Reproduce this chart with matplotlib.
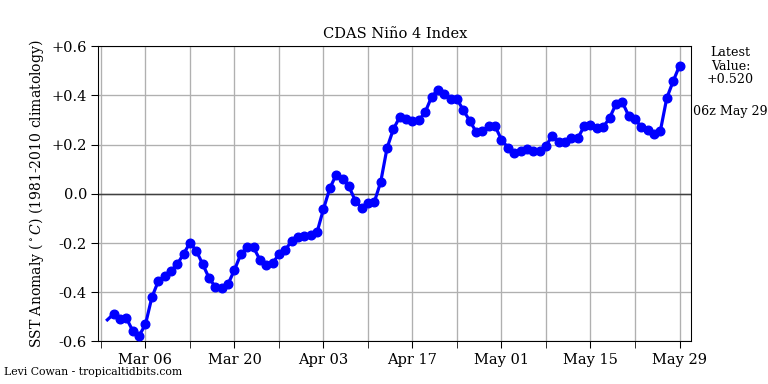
import numpy as np
import matplotlib
matplotlib.use("Agg")
import matplotlib.pyplot as plt
import matplotlib.dates as mdates
import matplotlib.ticker as mticker

# daily Nino 4 SST anomaly (deg C), 2024-02-29 .. 2024-05-29
start_day = "2024-02-29"
end_day = "2024-05-29"
anom = [
    -0.512, -0.488, -0.508, -0.505, -0.557, -0.577, -0.530, -0.421, -0.356, -0.332,
    -0.313, -0.286, -0.244, -0.199, -0.232, -0.286, -0.342, -0.379, -0.381, -0.366,
    -0.309, -0.245, -0.218, -0.218, -0.268, -0.289, -0.282, -0.245, -0.228, -0.191,
    -0.176, -0.173, -0.166, -0.155, -0.062, 0.023, 0.077, 0.062, 0.030, -0.028,
    -0.057, -0.037, -0.033, 0.048, 0.186, 0.263, 0.312, 0.304, 0.294, 0.298,
    0.332, 0.393, 0.423, 0.407, 0.386, 0.385, 0.339, 0.297, 0.252, 0.256,
    0.274, 0.274, 0.220, 0.188, 0.165, 0.175, 0.183, 0.175, 0.175, 0.195,
    0.236, 0.209, 0.212, 0.226, 0.226, 0.274, 0.279, 0.267, 0.271, 0.308,
    0.364, 0.373, 0.317, 0.305, 0.270, 0.260, 0.243, 0.257, 0.389, 0.457,
    0.520,
]
latest_label = "Latest\nValue:\n+0.520"
latest_time = "06z May 29"
yticks = [-0.6, -0.4, -0.2, 0.0, 0.2, 0.4, 0.6]

days = np.arange(np.datetime64(start_day), np.datetime64(end_day) + 1).astype("datetime64[D]").astype(object)
x = mdates.date2num(days)

plt.rcParams["font.family"] = ["DejaVu Serif"]
plt.rcParams["mathtext.fontset"] = "dejavuserif"

fig = plt.figure(figsize=(8, 4), dpi=96)
ax = fig.add_axes([0.128, 0.1107, 0.772, 0.7693])

ax.plot(x, anom, "-", color="#0000ff", lw=2.4, zorder=3)
ax.plot(x[1:], anom[1:], "o", color="#0000ff", ms=6.5, zorder=4)   # first day drawn without a marker
ax.axhline(0, color="#404040", lw=1.1, zorder=2)

ax.set_ylim(-0.6, 0.6)
ax.set_xlim(x[0] - 1.42, x[-1] + 1.84)
ax.set_yticks(yticks)
ax.yaxis.set_major_formatter(mticker.FuncFormatter(
    lambda v, p: "0.0" if abs(v) < 1e-9 else ("%+.1f" % v).replace("\u2212", "-")))

# labels every two weeks, ticks + grid every week
ax.xaxis.set_major_locator(mticker.FixedLocator(x[6::14]))
ax.xaxis.set_minor_locator(mticker.FixedLocator(x[-1] - 7 * np.arange(0, 14)))
ax.xaxis.set_major_formatter(mdates.DateFormatter("%b %d"))
ax.tick_params(axis="x", which="both", length=5, labelsize=11)
ax.tick_params(axis="y", length=5, labelsize=11)
ax.grid(True, which="both", axis="x", color="#b0b0b0", lw=1)
ax.grid(True, which="major", axis="y", color="#b0b0b0", lw=1)
ax.set_axisbelow(True)

ax.set_title("CDAS Ni\u00f1o 4 Index", fontsize=11, pad=6)
ax.set_ylabel(r"SST Anomaly ($^\circ C$) (1981-2010 climatology)", fontsize=10.5)

fig.text(0.951, 0.88, latest_label, ha="center", va="top", fontsize=9.5, linespacing=1.05)
fig.text(0.951, 0.71, latest_time, ha="center", va="center", fontsize=9.5)
fig.text(0.005, 0.032, "Levi Cowan - tropicaltidbits.com", ha="left", va="center", fontsize=8.2)

fig.savefig("out.png", dpi=96)
